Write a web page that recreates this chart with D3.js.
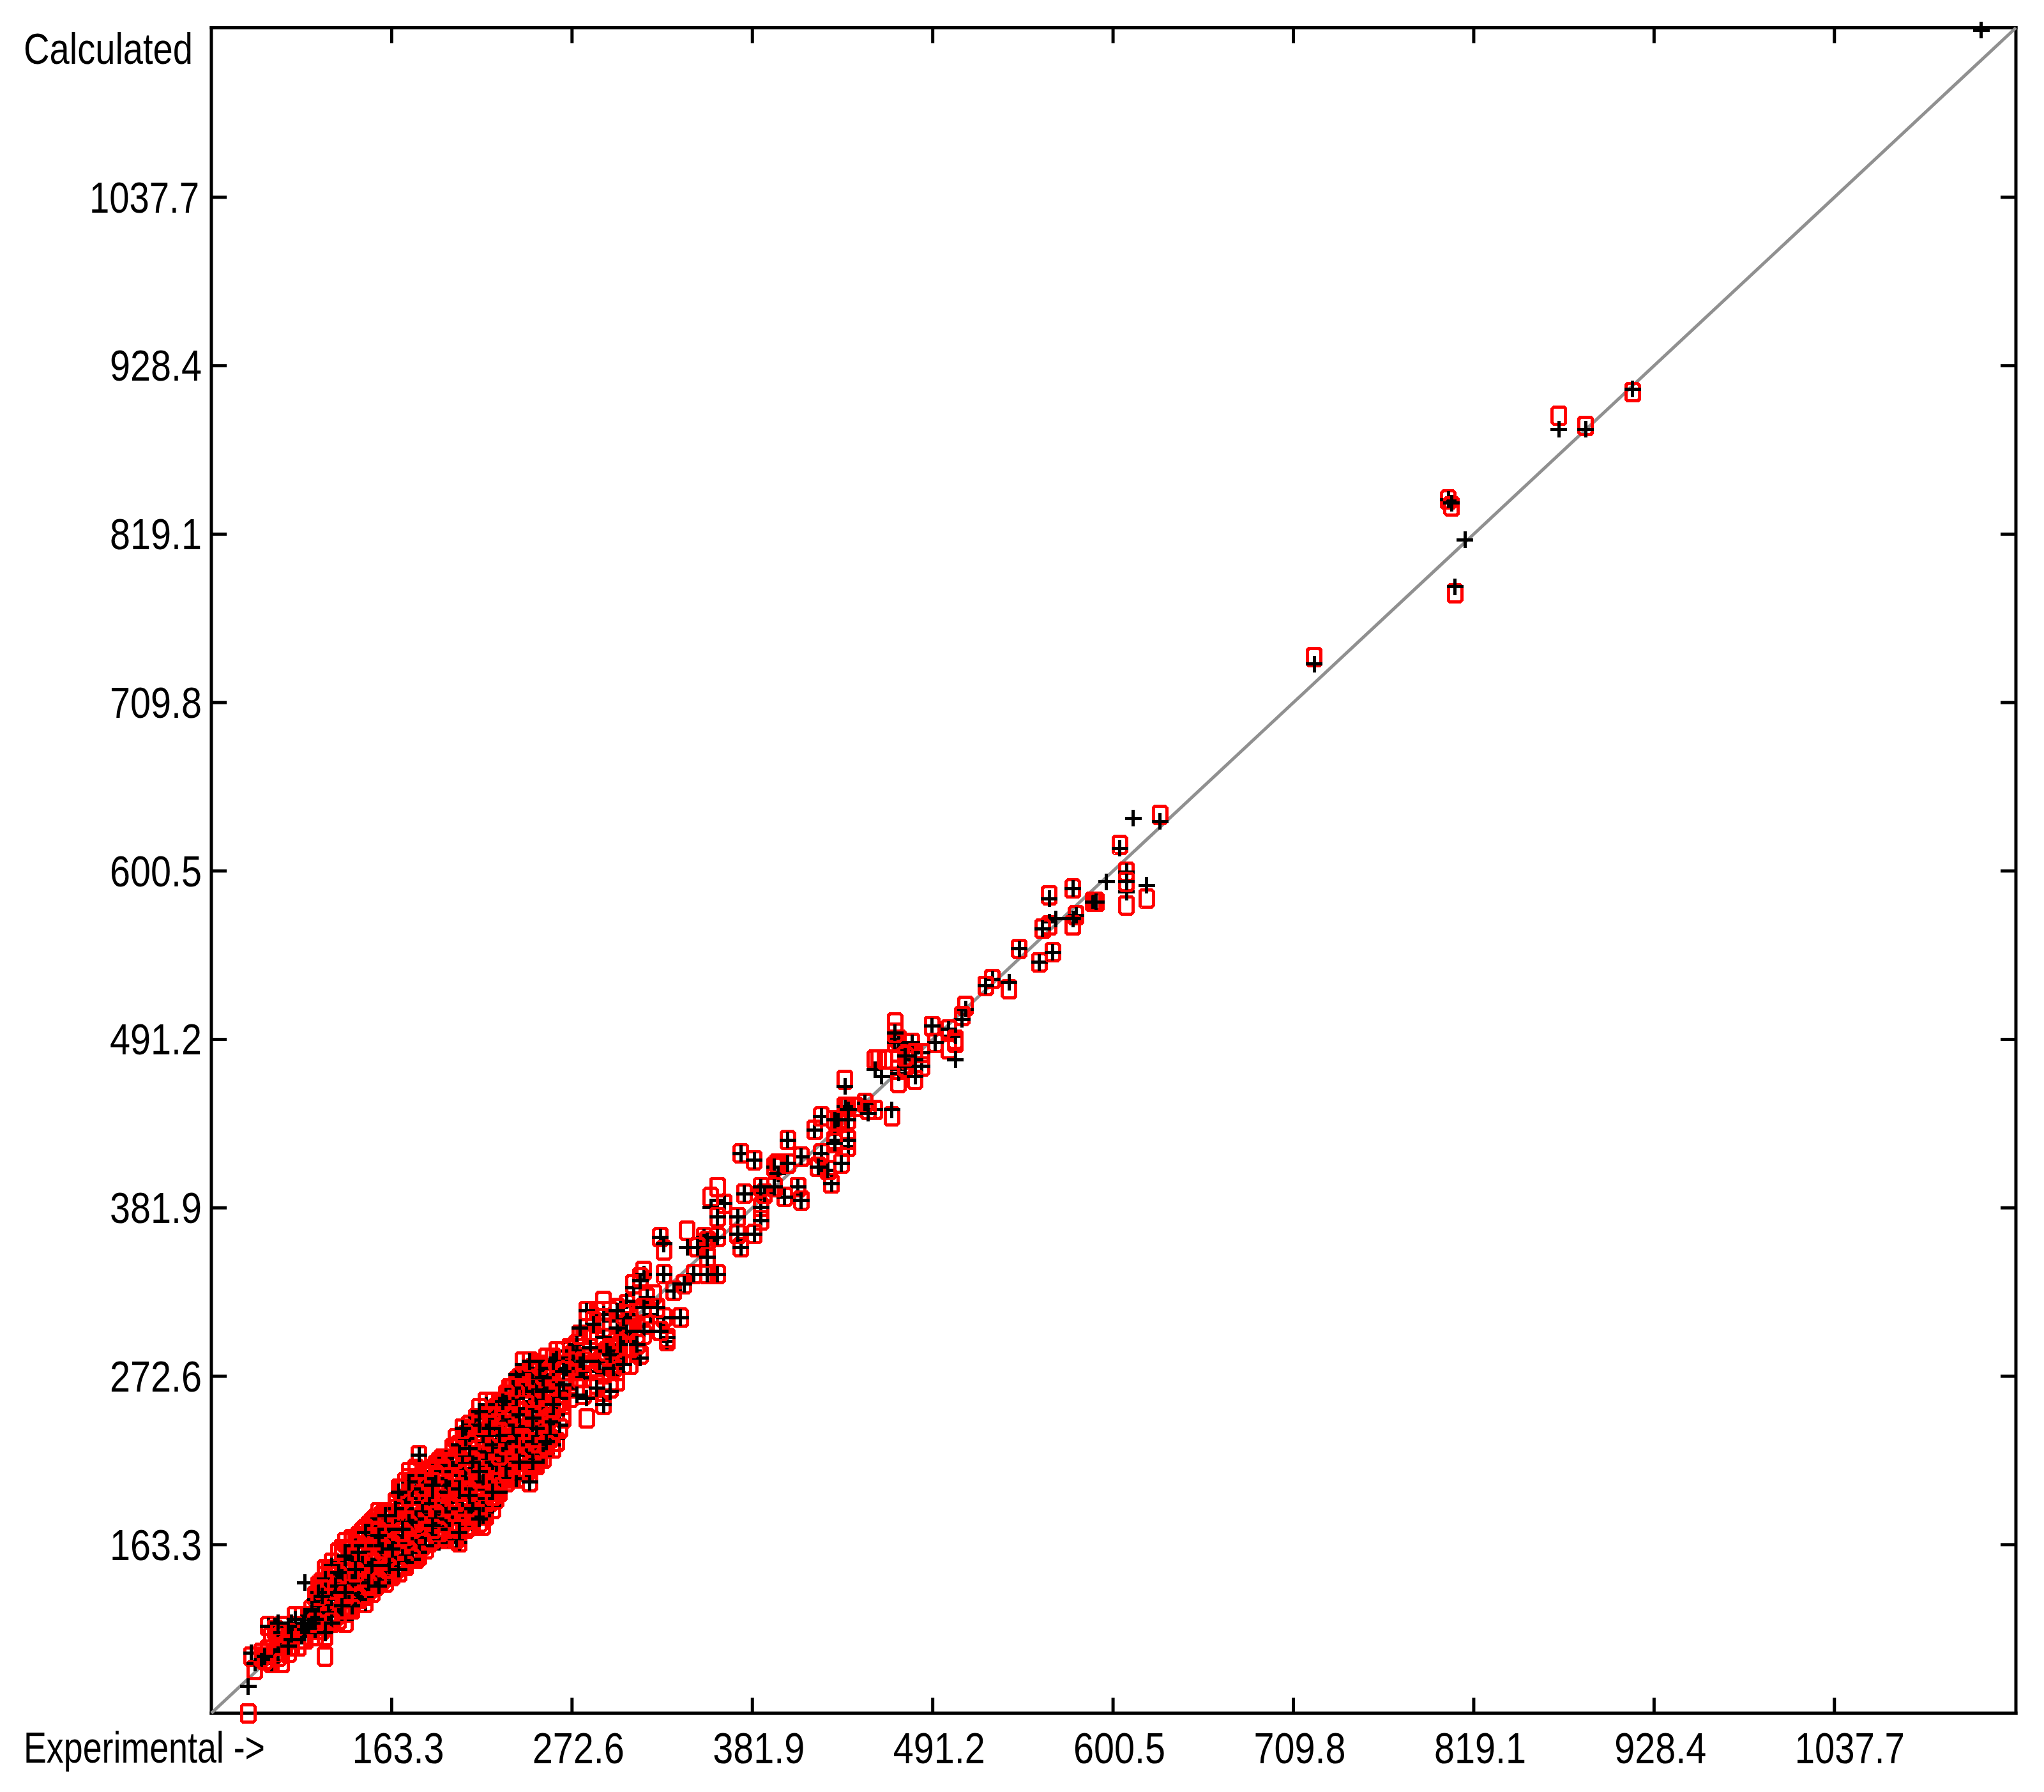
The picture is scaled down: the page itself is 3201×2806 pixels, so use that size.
<!DOCTYPE html>
<html><head><meta charset="utf-8">
<script src="https://cdn.jsdelivr.net/npm/d3@7"></script>
<style>html,body{margin:0;padding:0;background:#fff}svg{display:block}text{font-family:"Liberation Sans",sans-serif;font-size:68px;fill:#000}</style>
</head><body><svg id="c" width="3201" height="2806"></svg>
<script>
const tickValues=[163.3,272.6,381.9,491.2,600.5,709.8,819.1,928.4,1037.7];
const axisExtent=[54,1147.7];
// each row: [experimental, calculated (+), calculated (o)]
const sparse=[[915.6,913,912],[869.9,888,897],[886.6,888,890],[813.7,815.6,null],[802.9,842,841],[805.6,839,838],[807.6,786,780],[722.4,735,739],
[1127.4,1147,null],[612.4,635.8,null],[629,633.5,636.4],[604.3,616,617],[608.4,601,600],[608.4,594,593],[608.4,587,578],[595.8,593.5,null],[620.8,591,583],
[575.1,590,590],[562.7,583,584],[587.4,581,581],[590.7,581,581],[577.2,572.5,571],[575.2,569,564.5],[566.7,569,null],[557,563,563],[561.5,568,564.5],
[544,550,550],[564.8,548,548],[556.5,541,541],[527.4,530,530],[523,525,525],[537.8,529,523.5],[510.6,511.4,513],[508.6,505.3,507.5]];
const upperCluster=[[469.2,null,502.8],[469.2,496,496.6],[469.2,490,490],[489.8,500,500],[500.5,498,498],[504.5,478,489],[500,493,485],[492.3,488.5,488.5],[505.5,494,491],
[471,491,491],[477.6,488.5,488.5],[484.6,483,483],[474.5,480,480],[470.7,471,471],[484.6,474,474],[474.2,473,473],[481.5,468,465.5],[471,469,463],[461.2,467,null],[457,471,null],
[437.8,460,466],[455.2,null,477.5],[458.7,null,477.5],[462.2,null,477.5],[465.6,null,477.5],[476,484,478],[480,478,482],
[437.8,447,447],[455.2,446,446],[449.8,449,449],[440.8,446,448],[467,446,441],[440.5,438,438],[439.6,427,427],[440.8,421,421],[431.8,439.5,440],[432.7,427,427],[431,424,424],[433,439,439],[445,446,447],[452,444,446],
[419.2,433,433],[423,442,442],[423,417,417],[421,408,408],[430,397,397],[427,406,406],[435,411,411],[409.3,396,396],[411.2,386,386],[400.4,390,390],[394.4,395,395],[390,392,392],
[375.7,417,417],[382.7,412,412],[394.4,408,408],[396.5,405,410],[403.3,411,411],[402.8,426,426],[411.2,415,415],[377.6,391,391],[386.2,396,396],[386.2,382,382],[386.2,373,373],
[373.7,364,364],[382.7,364,364],[375.7,356,356],[373.7,375,375],[360.7,375,375],[364.8,384,384],[360.7,386,395],[357,383,390],[342,356,null],[342.5,null,368],[325.4,362,362],[328,358,355]];
const midBand=[[338.2,311,311],[330,297,297],[328.2,340,340],[313.4,334,336],[316,340,342],[334.2,328,328],[340.2,332,332],[347,339,339],[355,339,339],[360.7,338,338],[355,349,349],[355,360,360],[360.7,362,362],[349,356,356],[353,363,363],
[317.3,323,323],[315.4,317,318],[323.3,317,318],[307.5,312,312],[319.3,312,312],[327.3,310,310],[295.6,308,308],[305.5,301,301],[315.4,301,300],[325.4,302,302],[291.8,297,297],[301.6,293,294],[311.5,293,294],[329.7,295,295],[284,290,290],[293.7,288,288],[304.5,281,281],[314.2,285,286],[296.8,279,279],[279.9,282,282],[289.7,282,282],[276,293,293],[279.7,271,271],[268,275,275],
[282.2,315,315],[290.7,null,322],[299,314,318],[306,322,320],[310,330,333],[286,306,308],[278,305,300],[292,312,314],[300,305,306],[303,310,312],[273,288,286],[267.8,288,288],[264,285,288],
[282,259,245],[291,254,254],[296,262,264],[288,266,268],[284,275,278],[292,274,270],[300,278,276],[296,286,290],[302,288,286],[308,296,290],[276,260,264],[272,266,268],[278,276,272],[270,278,276],[268,268,265],[274,284,280]];
const denseA=[[78.8,92,91],[80.7,87,83],[84,89,91],[87,91,88],[91,87,86],[94,94,90],[97.4,95,87],[100,97,92],[99,105,100],[96.2,106,104],[95,112,106],[89.1,111,111],[93,110,108],[103,113,106],[102,101,97],[106,108,102],[105,114,110],[100,110,107],
[107,106,null],[108,108,null],[109,110,null],[110,112,null],[111,113,null],[109,113,null],[111,108,null],[112,115,null],[113,116,null],[110,106,null],[112,111,null],[108,104,null],[114,118,null],[115,121,null],
[110,138.6,null],[119.4,130,136],[122.5,null,90],[122,107,104],[122.1,140,147],[135,115,112],[140,123,122],[146.6,125,125],[159.4,138,138],
[116,108,105],[117,114,112],[115,120,122],[116,127,129],[118,133,131],
[120,110,108],[121,118,116],[119,124,125],[121,131,134],[120,137,139],
[124,113,111],[125,120,118],[123,127,128],[125,133,136],[124,141,144],
[128,113,113],[129,121,120],[127,127,130],[129,136,134],[128,143,145],[127,150,152],
[132,116,114],[133,123,121],[131,129,131],[133,138,135],[132,145,143],[131,152,158],
[136,118,119],[137,126,124],[135,133,131],[137,140,142],[136,148,146],[135,156,164],
[140,126,124],[141,132,130],[139,138,140],[141,147,145],[140,154,156],[139,163,166],
[144,127,128],[145,136,133],[143,142,144],[145,151,149],[144,159,162],[143,167,170],
[148,130,131],[149,138,136],[147,146,148],[149,155,152],[148,163,161],[147,171,174],
[152,134,133],[153,142,140],[151,149,151],[153,158,156],[152,167,165],[151,175,178],
[156,137,138],[157,145,144],[155,153,155],[157,162,160],[156,170,172],[155,180,185],
[160,141,139],[161,149,147],[159,157,159],[161,166,163],[160,174,176],[159,182,184],
[164,143,144],[165,152,150],[163,160,162],[165,169,167],[164,177,180],[165,186,186],
[168,148,146],[169,156,154],[167,164,166],[169,173,171],[168,181,184],[169,192,194],[168,198,200],
[172,151,149],[173,159,158],[171,167,169],[173,177,175],[172,186,188],[171,196,204],[173,205,210],
[176,153,155],[177,162,160],[175,171,173],[177,181,178],[176,190,192],[175,200,203],[177,208,211],
[180,158,157],[181,166,164],[179,174,176],[181,184,182],[180,194,196],[179,204,206],[180.5,222,222],
[184,162,160],[185,170,168],[183,178,180],[185,188,186],[184,197,200],[183,206,209],
[188,168,166],[189,175,173],[187,182,184],[189,192,190],[188,201,203],[187,210,212],
[192,165,167],[193,173,171],[191,180,182],[193,188,186],[192,197,194],[191,206,208],[193,215,216],
[196,168,167],[197,176,174],[195,184,186],[197,193,190],[196,201,203],[195,211,213],[197,220,220],
[200,169,167],[201,177,175],[199,186,188],[201,195,192],[200,204,206],[199,214,216],[201,223,226],
[203.4,164,164],[202,168,168],[204,172,174],[205,181,179],[203,190,192],[205,199,197],[204,208,210],[203,218,220],[205,227,229],[206.6,238,238],
[208,175,173],[209,184,182],[207,193,195],[209,202,200],[208,212,214],[207,222,224],[209,232,234],[210,240,242],
[212,178,176],[213,187,185],[211,196,198],[213,206,203],[212,216,218],[211,226,228],[213,236,238],[213.5,245,245]];
const denseB=[[217.8,183,175],[216,181,178],[217,191,188],[215,200,202],[217,210,207],[216,220,222],[215,230,232],[217,240,242],[216,250,252],
[220,185,183],[221,194,191],[219,204,206],[221,214,211],[220,224,226],[219,234,236],[221.3,255,256],[221,245,247],
[224,189,187],[225,198,195],[223,208,210],[225,218,215],[224,228,230],[223,238,240],[225,248,250],[225,254,256],
[228,198,197],[229,206,204],[227,215,217],[229,225,222],[228,234,236],[227,244,246],[229,253,255],[230.5,256,256],
[232.4,206,204],[233,212,210],[231,221,223],[233,230,228],[232,240,242],[231,250,252],[233,258,260],
[236,209,207],[237,216,214],[235,225,227],[237,235,232],[236,245,247],[235,255,257],[237,264,266],[238.7,274,270],
[239.5,207,207],[241,218,216],[239,228,230],[241,238,236],[240,248,250],[239,258,260],[241,268,271],
[244,212,210],[245,221,219],[243,231,233],[245,242,239],[244,252,254],[243,262,264],[245,272,274],[243,280,282],
[247.2,205,205],[249,216,214],[247,226,228],[249,235,233],[248,245,247],[247,256,258],[249,266,268],[248,276,278],[247.2,282,282],
[252,219,217],[253,228,226],[251,238,240],[253,249,246],[252,259,261],[251,269,271],[253,278,280],
[255.2,277,277],[256,222,220],[257,231,229],[255,241,243],[257,252,249],[256,262,264],[255,271,273],
[261.4,228,225],[260,235,233],[259,244,246],[261,254,252],[260,264,266],[259,274,276],[261,283,285],
[264,232,230],[265,240,238],[263,248,250],[265,258,256],[264,270,272],[263,279,281],[266,262,260]];
const denseFill=[[84,null,94],[88,null,96],[92,null,92],[90,null,104],[94,null,100],[98,null,99],[97,null,110],[103,null,103],[101,null,93],[106,null,97],[104,null,118],[108,null,116],[111,null,102],[114,null,104],[113,null,111],[116,null,116],
[118,null,109],[119,null,120],[118,112,126],[120,null,134],[122,null,113],[123,null,122],[122,null,130],[126,null,116],[127,124,123],[126,null,138],[126,null,147],
[130,null,118],[130,null,126],[131,135,137],[130,null,148],[134,null,120],[134,null,128],[135,null,139],[134,142,150],[134,null,160],
[138,null,122],[138,null,130],[139,144,136],[138,null,152],[138,null,160],[142,null,127],[142,null,137],[143,null,148],[142,null,158],[142,null,168],
[146,null,130],[146,134,140],[147,null,150],[146,null,160],[146,null,172],[150,null,134],[150,null,144],[151,160,154],[150,null,164],[150,null,176],
[154,null,137],[154,null,147],[155,null,158],[154,170,168],[154,null,180],[158,null,142],[158,null,152],[159,null,164],[158,null,174],[158,null,183],
[162,null,144],[162,151,155],[163,null,166],[162,null,172],[162,null,183],[166,null,148],[166,null,158],[167,null,170],[166,null,178],[166,null,190],
[170,null,150],[170,null,162],[170,178,168],[170,null,180],[170,null,190],[170,null,200],[174,null,155],[174,164,165],[175,null,184],[174,null,196],[174,null,206],
[178,null,155],[178,null,168],[179,null,180],[178,200,190],[178,null,200],[178,null,212],[182,null,162],[182,null,172],[183,null,186],[182,null,196],[182,null,208],
[186,null,165],[186,null,176],[187,194,188],[186,null,198],[186,null,210],[190,null,170],[190,null,180],[191,null,192],[190,206,200],[190,null,214],
[194,null,170],[194,null,178],[195,null,190],[194,null,200],[194,null,210],[194,null,220],[198,null,172],[198,null,182],[199,null,194],[198,208,204],[198,null,218],
[202,null,178],[202,null,186],[203,null,198],[202,null,206],[202,null,216],[202,null,232],[206,null,178],[206,187,190],[207,null,200],[206,null,214],[206,null,226],
[210,null,180],[210,null,190],[211,null,204],[210,218,212],[210,null,222],[210,null,236],[214,null,184],[214,null,194],[215,null,208],[214,null,218],[214,null,228],[214,null,244],
[218,null,186],[218,null,196],[219,null,210],[218,226,220],[218,null,232],[218,null,246],[222,null,190],[222,null,200],[223,null,212],[222,null,222],[222,null,234],[222,null,248],
[226,null,194],[226,null,204],[227,null,220],[226,236,226],[226,null,236],[226,null,252],[230,null,206],[230,null,212],[231,null,226],[230,null,238],[230,null,250],
[234,null,208],[234,null,216],[235,null,230],[234,250,240],[234,null,252],[234,null,264],[238,null,212],[238,null,220],[239,null,234],[238,null,244],[238,null,256],[238,null,268],
[242,null,212],[242,null,224],[243,null,236],[242,null,250],[242,260,256],[242,null,274],[246,null,212],[246,null,222],[247,null,234],[246,null,250],[246,null,264],[246,null,276],
[250,null,214],[250,null,224],[251,null,236],[250,null,252],[250,272,262],[250,null,280],[254,null,220],[254,null,230],[255,null,246],[254,null,256],[254,null,268],[254,null,280],
[258,null,226],[258,null,238],[259,null,250],[258,268,260],[258,null,272],[258,null,284],[262,null,230],[262,null,240],[263,null,254],[262,null,266],[262,null,278],
[267,null,245],[267,null,255],[268,null,280],[272,null,258],[272,null,272],[272,null,290],[276,null,272],[276,null,284],[280,null,260],[280,null,290],[280,null,300],[284,null,265],[284,null,284],[284,null,300],[288,null,275],[288,null,296],[288,null,314],
[292,null,262],[292,null,282],[292,null,304],[296,null,270],[296,null,298],[296,null,314],[300,null,270],[300,null,284],[300,null,298],[304,null,290],[304,null,304],[308,null,280],[308,null,306],[312,null,300],[312,null,316],[318,null,306],[322,null,326]];
const lowPoint=[76.6,72,53];

const plotLeft=331,plotRight=3157,plotTop=43.5,plotBottom=2682.5,cell=5.25;
const svg=d3.select("#c");
const x=d3.scaleLinear().domain(axisExtent).range([plotLeft,plotRight]);
const y=d3.scaleLinear().domain(axisExtent).range([plotBottom,plotTop]);
const fmt=d3.format(".1f");
const styleAxis=g=>{g.selectAll("path.domain").attr("stroke","#000").attr("stroke-width",5).attr("stroke-linecap","square");
 g.selectAll("line").attr("stroke","#000").attr("stroke-width",5);g.attr("font-family",null).attr("font-size",null);};
const isLong=d=>fmt(d).length===6;
const fit=s=>s.attr("lengthAdjust","spacingAndGlyphs").attr("textLength",d=>isLong(d)?172:144);
svg.append("g").attr("transform",`translate(0,${plotBottom})`).call(d3.axisBottom(x).tickValues(tickValues).tickFormat(fmt).tickSize(-24).tickSizeOuter(0).offset(0)).call(styleAxis)
 .selectAll("text").attr("text-anchor","start").attr("x",-62).attr("y",78).attr("dy",null).call(fit);
svg.append("g").attr("transform",`translate(0,${plotTop})`).call(d3.axisTop(x).tickValues(tickValues).tickFormat("").tickSize(-24).tickSizeOuter(0).offset(0)).call(styleAxis);
svg.append("g").attr("transform",`translate(${plotLeft},0)`).call(d3.axisLeft(y).tickValues(tickValues).tickFormat(fmt).tickSize(-24).tickSizeOuter(0).offset(0)).call(styleAxis)
 .selectAll("text").attr("text-anchor","end").attr("x",d=>isLong(d)?-19:-15).attr("dy","0.35em").call(fit);
svg.append("g").attr("transform",`translate(${plotRight},0)`).call(d3.axisRight(y).tickValues(tickValues).tickFormat("").tickSize(-24).tickSizeOuter(0).offset(0)).call(styleAxis);
svg.append("text").attr("x",37).attr("y",100).attr("textLength",265).attr("lengthAdjust","spacingAndGlyphs").text("Calculated");
svg.append("text").attr("x",37).attr("y",2760).attr("textLength",378).attr("lengthAdjust","spacingAndGlyphs").text("Experimental ->");

const line=d3.line().x(d=>x(d)).y(d=>y(d));
svg.append("path").attr("d",line(axisExtent)).attr("fill","none").attr("stroke","#909090").attr("stroke-width",5);

const points=[...denseA,...denseB,...midBand,...upperCluster,...sparse,lowPoint];
const n=points.length;
const order=d3.range(n).sort((a,b)=>((a*137)%n)-((b*137)%n));
const snap=v=>Math.round(v/cell)*cell;
const ring="M-8,-13.5H8L10.5,-11V11L8,13.5H-8L-10.5,11V-11Z";
const plus="M-13,0H13M0,-13V13";
const marks=svg.append("g").attr("shape-rendering","crispEdges");
const drawRow=d=>{
 if(d[2]!==null)marks.append("path").attr("d",ring).attr("fill","none").attr("stroke","#f00").attr("stroke-width",5).attr("transform",`translate(${snap(x(d[0]))},${snap(y(d[2]))})`);
 if(d[1]!==null)marks.append("path").attr("d",plus).attr("fill","none").attr("stroke","#000").attr("stroke-width",5).attr("transform",`translate(${snap(x(d[0]))},${snap(y(d[1]))})`);
};
denseFill.forEach(drawRow);
order.forEach(i=>drawRow(points[i]));
</script></body></html>
